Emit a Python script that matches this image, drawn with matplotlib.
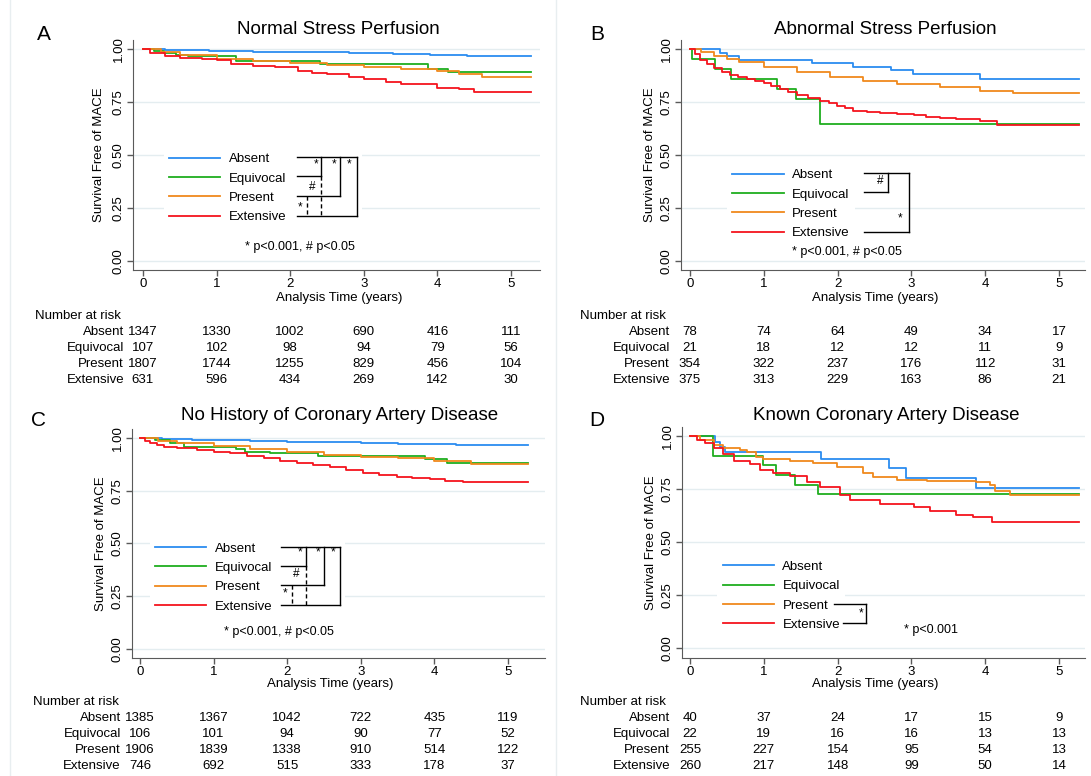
import matplotlib
matplotlib.use('Agg')
import matplotlib.pyplot as plt
from matplotlib.transforms import Affine2D, blended_transform_factory
from matplotlib.patches import Rectangle
from matplotlib.lines import Line2D

plt.rcParams['font.family'] = ['Liberation Sans', 'DejaVu Sans']

W, H = 1091, 776

# ---------------- data ----------------
groups = ['Absent', 'Equivocal', 'Present', 'Extensive']
colors = ['#2b8cf0', '#1fae1f', '#f0891c', '#f5141e']
year_ticks = [0, 1, 2, 3, 4, 5]
y_ticks = [0.0, 0.25, 0.50, 0.75, 1.0]
t_end = 5.27

# Panel A: Normal Stress Perfusion
A_absent_t = [0, 0.3, 0.6, 0.9, 1.5, 2.0, 2.8, 3.4, 3.9, 4.4, 4.8]
A_absent_s = [1.0, 0.997, 0.995, 0.992, 0.988, 0.985, 0.981, 0.977, 0.972, 0.968, 0.965]
A_equiv_t = [0, 0.15, 0.28, 0.45, 0.61, 1.27, 2.4, 3.87, 4.15]
A_equiv_s = [1.0, 0.99, 0.98, 0.972, 0.965, 0.944, 0.928, 0.904, 0.891]
A_present_t = [0, 0.25, 0.5, 1.0, 1.5, 2.0, 2.5, 3.0, 3.5, 4.0, 4.3, 4.6]
A_present_s = [1.0, 0.985, 0.972, 0.955, 0.944, 0.933, 0.925, 0.917, 0.908, 0.896, 0.884, 0.87]
A_ext_t = [0, 0.1, 0.3, 0.5, 0.8, 1.0, 1.2, 1.5, 1.8, 2.1, 2.3, 2.5, 2.8, 3.0, 3.3, 3.5, 4.0, 4.3, 4.5]
A_ext_s = [1.0, 0.98, 0.967, 0.958, 0.952, 0.947, 0.928, 0.92, 0.913, 0.896, 0.889, 0.881, 0.868,
           0.857, 0.845, 0.833, 0.817, 0.809, 0.795]
A_risk_absent = [1347, 1330, 1002, 690, 416, 111]
A_risk_equiv = [107, 102, 98, 94, 79, 56]
A_risk_present = [1807, 1744, 1255, 829, 456, 104]
A_risk_ext = [631, 596, 434, 269, 142, 30]

# Panel B: Abnormal Stress Perfusion
B_absent_t = [0, 0.41, 0.5, 0.66, 1.65, 2.21, 2.73, 3.02, 3.93]
B_absent_s = [1.0, 0.983, 0.967, 0.948, 0.932, 0.917, 0.901, 0.88, 0.857]
B_equiv_t = [0, 0.03, 0.34, 0.56, 1.18, 1.43, 1.76]
B_equiv_s = [1.0, 0.952, 0.905, 0.857, 0.810, 0.762, 0.648]
B_present_t = [0, 0.15, 0.32, 0.5, 0.66, 1.0, 1.45, 1.9, 2.35, 2.8, 3.39, 3.93, 4.38]
B_present_s = [1.0, 0.985, 0.967, 0.952, 0.94, 0.914, 0.89, 0.869, 0.85, 0.835, 0.819, 0.803, 0.794]
B_ext_t = [0, 0.07, 0.14, 0.23, 0.32, 0.43, 0.54, 0.65, 0.77, 0.88, 1.0, 1.1, 1.22, 1.33, 1.45,
           1.6, 1.76, 1.88, 1.99, 2.1, 2.21, 2.4, 2.58, 2.8, 3.03, 3.2, 3.39, 3.6, 3.93, 4.16]
B_ext_s = [1.0, 0.975, 0.95, 0.93, 0.909, 0.893, 0.877, 0.867, 0.857, 0.847, 0.838, 0.825, 0.81,
           0.797, 0.783, 0.77, 0.756, 0.744, 0.731, 0.72, 0.709, 0.704, 0.70, 0.694, 0.687, 0.68,
           0.673, 0.668, 0.662, 0.642]
B_risk_absent = [78, 74, 64, 49, 34, 17]
B_risk_equiv = [21, 18, 12, 12, 11, 9]
B_risk_present = [354, 322, 237, 176, 112, 31]
B_risk_ext = [375, 313, 229, 163, 86, 21]

# Panel C: No History of Coronary Artery Disease
C_absent_t = [0, 0.3, 0.7, 1.0, 1.5, 2.0, 2.5, 3.0, 3.5, 4.0, 4.3, 4.7]
C_absent_s = [1.0, 0.996, 0.992, 0.99, 0.986, 0.982, 0.979, 0.976, 0.973, 0.97, 0.968, 0.966]
C_equiv_t = [0, 0.2, 0.41, 0.6, 1.31, 1.43, 1.77, 2.42, 3.87, 4.17]
C_equiv_s = [1.0, 0.99, 0.975, 0.959, 0.948, 0.935, 0.927, 0.916, 0.899, 0.883]
C_present_t = [0, 0.25, 0.5, 1.0, 1.5, 2.0, 2.5, 3.0, 3.5, 4.0, 4.5]
C_present_s = [1.0, 0.985, 0.975, 0.96, 0.946, 0.932, 0.92, 0.912, 0.903, 0.89, 0.877]
C_ext_t = [0, 0.07, 0.14, 0.23, 0.32, 0.5, 0.77, 1.0, 1.22, 1.45, 1.68, 1.9, 2.13, 2.35, 2.58,
           2.8, 3.03, 3.25, 3.49, 3.7, 3.94, 4.15, 4.39, 4.6]
C_ext_s = [1.0, 0.985, 0.975, 0.967, 0.959, 0.952, 0.943, 0.935, 0.927, 0.915, 0.903, 0.892, 0.88,
           0.87, 0.861, 0.847, 0.832, 0.823, 0.816, 0.81, 0.804, 0.797, 0.79, 0.789]
C_risk_absent = [1385, 1367, 1042, 722, 435, 119]
C_risk_equiv = [106, 101, 94, 90, 77, 52]
C_risk_present = [1906, 1839, 1338, 910, 514, 122]
C_risk_ext = [746, 692, 515, 333, 178, 37]

# Panel D: Known Coronary Artery Disease
D_absent_t = [0, 0.34, 0.41, 0.47, 1.78, 2.69, 2.93, 3.88]
D_absent_s = [1.0, 0.973, 0.95, 0.923, 0.89, 0.847, 0.803, 0.756]
D_equiv_t = [0, 0.31, 0.99, 1.17, 1.42, 1.74]
D_equiv_s = [1.0, 0.907, 0.863, 0.816, 0.769, 0.726]
D_present_t = [0, 0.14, 0.32, 0.45, 0.68, 0.77, 0.9, 0.99, 1.36, 1.67, 1.99, 2.35, 2.48, 2.8,
               3.21, 3.88, 4.07, 4.13, 4.34]
D_present_s = [1.0, 0.981, 0.958, 0.945, 0.934, 0.926, 0.903, 0.89, 0.882, 0.871, 0.855, 0.824,
               0.805, 0.792, 0.788, 0.781, 0.769, 0.741, 0.722]
D_ext_t = [0, 0.09, 0.2, 0.32, 0.45, 0.59, 0.81, 0.95, 1.13, 1.36, 1.58, 1.76, 2.03, 2.17, 2.57,
           3.03, 3.25, 3.61, 3.84, 4.09]
D_ext_s = [1.0, 0.981, 0.965, 0.942, 0.914, 0.882, 0.866, 0.84, 0.824, 0.813, 0.785, 0.761, 0.722,
           0.698, 0.678, 0.667, 0.646, 0.627, 0.619, 0.596]
D_risk_absent = [40, 37, 24, 17, 15, 9]
D_risk_equiv = [22, 19, 16, 16, 13, 13]
D_risk_present = [255, 227, 154, 95, 54, 13]
D_risk_ext = [260, 217, 148, 99, 50, 14]

# ---------------- figure ----------------
fig = plt.figure(figsize=(W / 100, H / 100), dpi=100)
fig.patch.set_facecolor('white')
PIX = Affine2D().scale(1.0 / W, -1.0 / H).translate(0, 1) + fig.transFigure

GRID = '#e4edf0'
AXC = '#5a5a5a'
FS = 9.5


def fig_line(xs, ys, **kw):
    fig.add_artist(Line2D(xs, ys, transform=PIX, **kw))


def ptext(x, y, s, **kw):
    fig.text(x / W, 1 - y / H, s, **kw)


# faint panel separators
fig_line([10, 10], [0, 776], color='#e8eef0', lw=1)
fig_line([556, 556], [0, 776], color='#e8eef0', lw=1)


def panel(letter, title, curves, risks, L):
    left, top, right, bottom = L['box']
    x0, xs, y1, y0 = L['x0'], L['xs'], L['y1'], L['y0']
    ax = fig.add_axes([left / W, 1 - bottom / H, (right - left) / W, (bottom - top) / H])
    ax.set_xlim((left - x0) / xs, (right - x0) / xs)
    ax.set_ylim((y0 - bottom) / (y0 - y1), (y0 - top) / (y0 - y1))
    for yt in y_ticks:
        ax.axhline(yt, color=GRID, lw=1, zorder=0)
    lines = []
    for (tt, ss), c, g in zip(curves, colors, groups):
        ln, = ax.step(list(tt) + [t_end], list(ss) + [ss[-1]], where='post', color=c, lw=1.3,
                      label=g, zorder=2)
        lines.append(ln)
    for sp in ['top', 'right']:
        ax.spines[sp].set_visible(False)
    ax.spines['left'].set_color(AXC)
    ax.spines['bottom'].set_color(AXC)
    ax.set_xticks(year_ticks)
    ax.set_yticks(y_ticks)
    ax.set_yticklabels(['%.2f' % v for v in y_ticks])
    ax.tick_params(axis='both', colors=AXC, labelcolor='black', labelsize=FS, length=4, width=1, pad=2)
    ax.tick_params(axis='y', labelrotation=90)
    for lb in ax.get_yticklabels():
        lb.set_va('center')
    ax.set_ylabel('Survival Free of MACE', fontsize=FS)
    ax.yaxis.set_label_coords((L['ylab_x'] - left) / (right - left), 0.5)
    ptext(*L['xlab'], 'Analysis Time (years)', fontsize=FS, ha='center', va='center')
    ptext(*L['title'], title, fontsize=13.5, ha='center', va='center')
    ptext(*L['letter'], letter, fontsize=15, ha='center', va='center')

    # legend
    lx, ly = L['leg']
    if L.get('cover'):
        cx0, cy0, cx1, cy1 = L['cover']
        fig.add_artist(Rectangle((cx0, cy0), cx1 - cx0, cy1 - cy0, transform=PIX,
                                 facecolor='white', edgecolor='none', zorder=1))
    ax.legend(lines, groups, loc='upper left', bbox_to_anchor=(lx, ly), bbox_transform=PIX,
              frameon=True, facecolor='white', edgecolor='none', fancybox=False, framealpha=1,
              borderpad=0.4, borderaxespad=0, handlelength=3.9, handletextpad=0.63,
              labelspacing=0.54, fontsize=FS)
    for seg in L['brackets']:
        xs_, ys_, ls = seg
        fig_line(xs_, ys_, color='black', lw=1, ls=ls, zorder=5)
    for (tx, ty, s) in L['marks']:
        ptext(tx, ty, s, fontsize=8.5, ha='center', va='center', zorder=6)
    fx, fy, ftxt = L['foot']
    ptext(fx, fy, ftxt, fontsize=9, ha='center', va='center')

    # number at risk table (columns at the x-axis ticks)
    nx, ny = L['nar']
    ptext(nx, ny, 'Number at risk', fontsize=FS, ha='left', va='center')
    tr = blended_transform_factory(ax.transData, PIX)
    for g, vals, ry in zip(groups, risks, L['rows']):
        ptext(L['rlab'], ry, g, fontsize=FS, ha='right', va='center')
        for yr, v in zip(year_ticks, vals):
            ax.text(yr, ry, str(v), transform=tr, fontsize=FS, ha='center', va='center', clip_on=False)
    return ax


# ---------- Panel A ----------
LA = dict(box=(133, 40, 540, 270), x0=143, xs=73.6, y1=49, y0=261, ylab_x=105,
          xlab=(339, 298), title=(338, 29), letter=(43.5, 35),
          leg=(163.5, 147.8), cover=(290, 148, 362, 225),
          brackets=[([296.7, 356.7], [157.3, 157.3], '-'),
                    ([296.7, 320.7], [176, 176], '-'),
                    ([296.7, 340], [196, 196], '-'),
                    ([296.7, 356.7], [216, 216], '-'),
                    ([320.7, 320.7], [157.3, 176], '-'),
                    ([340, 340], [157.3, 196], '-'),
                    ([356.7, 356.7], [157.3, 216], '-'),
                    ([320.7, 320.7], [176, 216], (0, (3, 2))),
                    ([307.3, 307.3], [196, 216], (0, (3, 2)))],
          marks=[(315.7, 164, '*'), (334, 164, '*'), (349, 164, '*'),
                 (312.7, 187.3, '#'), (300, 207.3, '*')],
          foot=(300, 247, '* p<0.001, # p<0.05'),
          nar=(35, 316), rlab=124, rows=[332, 348, 364, 380])
panel('A', 'Normal Stress Perfusion',
      [(A_absent_t, A_absent_s), (A_equiv_t, A_equiv_s), (A_present_t, A_present_s), (A_ext_t, A_ext_s)],
      [A_risk_absent, A_risk_equiv, A_risk_present, A_risk_ext], LA)

# ---------- Panel B ----------
LB = dict(box=(681, 40, 1085, 270), x0=690, xs=73.8, y1=49, y0=261, ylab_x=656,
          xlab=(875, 298), title=(885, 29), letter=(597, 34),
          leg=(727, 163.8), cover=None,
          brackets=[([864, 909.3], [173.3, 173.3], '-'),
                    ([864, 888.3], [192.3, 192.3], '-'),
                    ([888.3, 888.3], [173.3, 192.3], '-'),
                    ([864, 909.3], [231.7, 231.7], '-'),
                    ([909.3, 909.3], [173.3, 231.7], '-')],
          marks=[(880, 181, '#'), (900, 218.3, '*')],
          foot=(847, 252, '* p<0.001, # p<0.05'),
          nar=(580, 316), rlab=670, rows=[332, 348, 364, 380])
panel('B', 'Abnormal Stress Perfusion',
      [(B_absent_t, B_absent_s), (B_equiv_t, B_equiv_s), (B_present_t, B_present_s), (B_ext_t, B_ext_s)],
      [B_risk_absent, B_risk_equiv, B_risk_present, B_risk_ext], LB)

# ---------- Panel C ----------
LC = dict(box=(132, 429, 545, 658), x0=140, xs=73.6, y1=438, y0=648.8, ylab_x=107,
          xlab=(330, 684), title=(340, 416), letter=(38, 421),
          leg=(149.7, 537.2), cover=(275, 537, 345, 612),
          brackets=[([280.7, 340], [546.7, 546.7], '-'),
                    ([280.7, 305.7], [565.7, 565.7], '-'),
                    ([280.7, 324.3], [585, 585], '-'),
                    ([280.7, 340], [605, 605], '-'),
                    ([305.7, 305.7], [546.7, 565.7], '-'),
                    ([324.3, 324.3], [546.7, 585], '-'),
                    ([340, 340], [546.7, 605], '-'),
                    ([305.7, 305.7], [565.7, 605], (0, (3, 2))),
                    ([291.7, 291.7], [585, 605], (0, (3, 2)))],
          marks=[(300, 552, '*'), (318.3, 552, '*'), (332.7, 552, '*'),
                 (296.7, 574.3, '#'), (285, 593.3, '*')],
          foot=(279, 632, '* p<0.001, # p<0.05'),
          nar=(33, 702), rlab=121, rows=[718, 734, 750, 766])
panel('C', 'No History of Coronary Artery Disease',
      [(C_absent_t, C_absent_s), (C_equiv_t, C_equiv_s), (C_present_t, C_present_s), (C_ext_t, C_ext_s)],
      [C_risk_absent, C_risk_equiv, C_risk_present, C_risk_ext], LC)

# ---------- Panel D ----------
LD = dict(box=(682, 427, 1085, 658), x0=690, xs=73.8, y1=436, y0=648, ylab_x=657,
          xlab=(875, 684), title=(886, 416), letter=(597, 421),
          leg=(717.4, 555.5), cover=None,
          brackets=[([834, 866], [604.3, 604.3], '-'),
                    ([842.7, 866], [622.7, 622.7], '-'),
                    ([866, 866], [604.3, 622.7], '-')],
          marks=[(861, 613.3, '*')],
          foot=(931, 630, '* p<0.001'),
          nar=(580, 702), rlab=670, rows=[718, 734, 750, 766])
panel('D', 'Known Coronary Artery Disease',
      [(D_absent_t, D_absent_s), (D_equiv_t, D_equiv_s), (D_present_t, D_present_s), (D_ext_t, D_ext_s)],
      [D_risk_absent, D_risk_equiv, D_risk_present, D_risk_ext], LD)

fig.savefig('out.png', dpi=100, facecolor='white')
